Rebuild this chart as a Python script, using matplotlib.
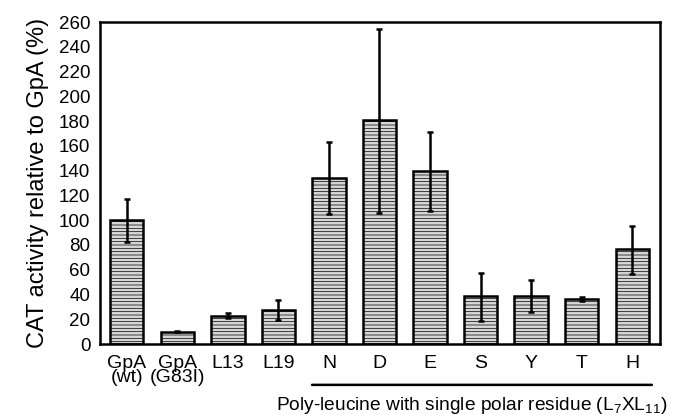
import matplotlib
matplotlib.use("Agg")
import matplotlib.pyplot as plt
import numpy as np

plt.rcParams['font.family'] = ['Liberation Sans', 'DejaVu Sans']
plt.rcParams['mathtext.fontset'] = 'custom'
plt.rcParams['mathtext.rm'] = 'Liberation Sans'
plt.rcParams['mathtext.it'] = 'Liberation Sans'
plt.rcParams['hatch.color'] = '#a0a0a0'
plt.rcParams['hatch.linewidth'] = 0.5

categories = ["GpA\n(wt)", "GpA\n(G83I)", "L13", "L19", "N", "D", "E", "S", "Y", "T", "H"]
values = [100, 10, 23, 27.5, 134, 181, 139.5, 38.5, 39, 36.5, 76.5]
err_low = [18, 0.5, 2, 8.5, 29, 75, 32, 20, 13, 1.5, 20]
err_high = [17, 0.5, 2, 8, 29, 73, 32, 19, 12.5, 1.5, 19]
yticks = list(range(0, 261, 20))
group_label = r"Poly-leucine with single polar residue (L$_{7}$XL$_{11}$)"

W, H = 674, 415
fig = plt.figure(figsize=(W / 100, H / 100), dpi=100)
ax = fig.add_axes([100 / W, 1 - 344 / H, 560 / W, (344 - 22) / H])

x = np.arange(len(categories))
ax.bar(x, values, width=0.66, color='#d6d6d6', edgecolor='black', linewidth=1.8,
       hatch='-----', zorder=2)
ax.errorbar(x, values, yerr=[err_low, err_high], fmt='none', ecolor='black',
            elinewidth=1.8, capsize=2.5, capthick=1.8, zorder=3)

ax.set_xlim(-0.53, 10.55)
ax.set_ylim(0, 260)
ax.set_yticks(yticks)
ax.set_xticks(x)
ax.set_xticklabels(categories, fontsize=14, linespacing=0.78)
ax.tick_params(axis='y', length=0, labelsize=13.5, pad=7)
ax.tick_params(axis='x', length=0, pad=8)
for s in ax.spines.values():
    s.set_linewidth(1.8)
ax.set_ylabel("CAT activity relative to GpA (%)", fontsize=17, labelpad=7)

# group line under polar residues
ax.annotate('', xy=(3.665, -33), xytext=(10.39, -33), xycoords='data',
            arrowprops=dict(arrowstyle='-', lw=1.8, color='black',
                            shrinkA=0, shrinkB=0),
            annotation_clip=False)
fig.text(472 / W, 1 - 410 / H, group_label, ha='center', va='baseline', fontsize=13.8)

fig.savefig("out.png", dpi=100)
